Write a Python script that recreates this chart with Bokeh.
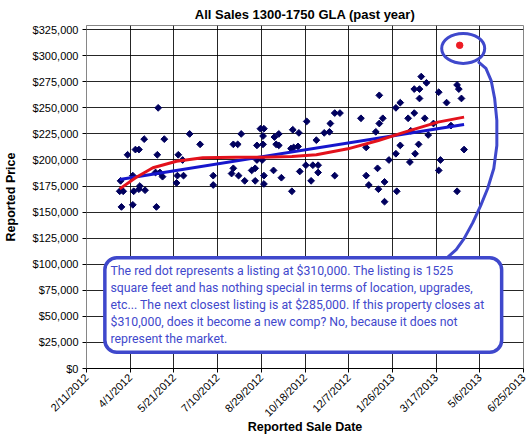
from datetime import datetime, timedelta
from math import pi

from bokeh.plotting import figure
from bokeh.models import (ColumnDataSource, FixedTicker, NumeralTickFormatter,
                          Label, BoxAnnotation, Range1d)
from bokeh.embed import file_html
from bokeh.resources import INLINE

# ---------------- data ----------------
TITLE = "All Sales 1300-1750 GLA (past year)"
X_TITLE = "Reported Sale Date"
Y_TITLE = "Reported Price"

START = datetime(2012, 2, 11)          # sale_day counts days after this date

x_tick_labels = ["2/11/2012", "4/1/2012", "5/21/2012", "7/10/2012", "8/29/2012",
                 "10/18/2012", "12/7/2012", "1/26/2013", "3/17/2013", "5/6/2013",
                 "6/25/2013"]
y_ticks = [0, 25000, 50000, 75000, 100000, 125000, 150000, 175000, 200000,
           225000, 250000, 275000, 300000, 325000]

sale_day = [82, 47, 56, 60, 66, 89, 81, 118, 130, 105,
            110, 111, 104, 103, 145, 145, 38, 42, 40, 53,
            53, 39, 54, 60, 61, 67, 80, 79, 84, 87,
            168, 173, 177, 168, 166, 174, 181, 189, 193, 193,
            195, 202, 199, 203, 202, 195, 201, 203, 203,
            215, 220, 217, 220, 236, 243, 234, 237, 242, 252,
            263, 272, 278, 279, 284, 290, 314, 331, 320, 335,
            214, 223, 244, 251, 259, 265, 265, 284, 257, 235,
            333, 320, 323, 334,
            383, 389, 375, 381, 424, 426, 381, 403, 429, 412,
            359, 354, 375, 368, 387, 339, 335, 397, 417, 391,
            371, 359, 380, 432, 354, 376, 346, 370, 405, 403,
            341, 355, 341, 424]
sale_price = [250000, 205000, 210000, 210000, 220000, 220000, 205000, 225000, 215000, 205000,
              200000, 185000, 185000, 178000, 185000, 176000, 170000, 170000, 155000, 157000,
              185000, 180000, 170000, 172000, 175000, 171000, 155000, 188000, 188000, 184000,
              215000, 215000, 225000, 192000, 187000, 185000, 180000, 190000, 192000, 180000,
              214000, 215000, 230000, 230000, 223000, 200000, 200000, 185000, 177000,
              222000, 225000, 215000, 214000, 229000, 226000, 211000, 212000, 213000, 237000,
              219000, 226000, 227000, 235000, 245000, 245000, 240000, 227000, 212000, 262000,
              190000, 183000, 189000, 195000, 195000, 195000, 188000, 185000, 180000, 170000,
              192000, 185000, 176000, 172000,
              280000, 274000, 268000, 268000, 272000, 268000, 259000, 265000, 259000, 255000,
              255000, 250000, 245000, 240000, 240000, 240000, 235000, 235000, 233000, 224000,
              228000, 214000, 215000, 210000, 206000, 206000, 200000, 198000, 200000, 190000,
              179000, 170000, 160000, 170000]

listing_day = [427]
listing_price = [310000]

linear_trend_day = [38, 432]
linear_trend_price = [181200, 234100]

poly_trend_day = [38, 57, 76, 103, 133, 171, 201, 235, 263, 299, 334, 364, 402, 432]
poly_trend_price = [172300, 183400, 192500, 198800, 202100, 202600, 202600, 203300,
                    205000, 210700, 218700, 226700, 236300, 241100]

note_lines = [
    "The red dot represents a listing at $310,000. The listing is 1525",
    "square feet and has nothing special in terms of location, upgrades,",
    "etc... The next closest listing is at $285,000. If this property closes at",
    "$310,000, does it become a new comp? No, because it does not",
    "represent the market.",
]

# hand-drawn callout (annotation geometry, in chart units)
note_box_day = [21, 475]
note_box_price = [15600, 106300]
loop_day = [431]
loop_price = [307000]
tail_day = [449, 457, 463, 467, 469.5, 469.5, 466, 459, 451, 442, 432, 423, 414]
tail_price = [293600, 287800, 276200, 259000, 237900, 213900, 191800, 172600,
              156200, 139900, 124600, 114000, 107300]

# ---------------- helpers ----------------
EPOCH = datetime(1970, 1, 1)


def to_date(d):
    return START + timedelta(days=d)


def ms(dt):
    return int((dt - EPOCH).total_seconds() * 1000)


tick_dates = [datetime.strptime(s, "%m/%d/%Y") for s in x_tick_labels]
tick_ms = [ms(d) for d in tick_dates]
overrides = {}
for t, s in zip(tick_ms, x_tick_labels):
    overrides[t] = s

INDIGO = "#3f48cc"
FONT = "Liberation Sans"

p = figure(width=530, height=439, x_axis_type="datetime",
           x_range=Range1d(tick_dates[0], tick_dates[-1]),
           y_range=Range1d(0, 329000),
           output_backend="svg", toolbar_location=None,
           min_border_left=84, min_border_right=7, min_border_top=25,
           min_border_bottom=71, background_fill_color="white",
           border_fill_color="white", outline_line_color="#868686")

# title
p.title.text = TITLE
p.title.align = "center"
p.title.text_font = FONT
p.title.text_font_size = "13px"
p.title.text_font_style = "bold"
p.title.text_color = "#000000"
p.title.standoff = 8

# axes
xt = FixedTicker(ticks=tick_ms)
p.xaxis.ticker = xt
p.xgrid.ticker = xt
p.xaxis.major_label_overrides = overrides
p.xaxis.major_label_orientation = pi / 4
yt = FixedTicker(ticks=y_ticks)
p.yaxis.ticker = yt
p.ygrid.ticker = yt
p.yaxis.formatter = NumeralTickFormatter(format="$0,0")

for ax in (p.xaxis[0], p.yaxis[0]):
    ax.major_label_text_font = FONT
    ax.major_label_text_font_size = "11px"
    ax.major_label_text_color = "#000000"
    ax.minor_tick_line_color = None
    ax.major_tick_in = 0
    ax.major_tick_out = 4
    ax.major_tick_line_color = "#000000"
    ax.axis_label_text_font = FONT
    ax.axis_label_text_font_size = "12.5px"
    ax.axis_label_text_font_style = "bold"
    ax.axis_label_text_color = "#000000"
p.xaxis.axis_label = X_TITLE
p.yaxis.axis_label = Y_TITLE
p.xaxis.major_label_standoff = 3
p.yaxis.major_label_standoff = 4
p.xaxis.axis_label_standoff = -6
p.yaxis.axis_label_standoff = 12
p.yaxis.axis_line_color = "#868686"
p.xaxis.axis_line_color = "#000000"

p.grid.grid_line_color = "#000000"
p.grid.grid_line_alpha = 0.85

# data
src = ColumnDataSource(dict(date=[to_date(d) for d in sale_day], price=sale_price))
p.scatter("date", "price", source=src, marker="square", angle=pi / 4, size=4.8,
          fill_color="#00005e", line_color="#00005e")

p.line([to_date(d) for d in linear_trend_day], linear_trend_price,
       line_color="#1616cc", line_width=3)
p.line([to_date(d) for d in poly_trend_day], poly_trend_price,
       line_color="#e3121c", line_width=3)

p.scatter([to_date(d) for d in listing_day], listing_price, marker="circle",
          size=6.5, fill_color="#ed1c24", line_color="#ed1c24")

# callout
p.ellipse([to_date(d) for d in loop_day], loop_price, width=43, height=30,
          width_units="screen", height_units="screen", fill_color=None,
          line_color=INDIGO, line_width=3)
p.line([to_date(d) for d in tail_day], tail_price, line_color=INDIGO,
       line_width=3, line_join="round", line_cap="round")

box = BoxAnnotation(left=to_date(note_box_day[0]), right=to_date(note_box_day[1]),
                    bottom=note_box_price[0], top=note_box_price[1],
                    fill_color="white", fill_alpha=1.0, line_color=INDIGO,
                    line_alpha=1.0, line_width=3.5, border_radius=12)
p.add_layout(box)

for i, line in enumerate(note_lines):
    p.add_layout(Label(x=24, y=97.7 - i * 17.1, x_units="screen", y_units="screen",
                       text=line, text_font="Roboto", text_font_size="12.3px",
                       text_color=INDIGO, text_baseline="middle"))

open("out.html", "w").write(file_html(p, INLINE))
